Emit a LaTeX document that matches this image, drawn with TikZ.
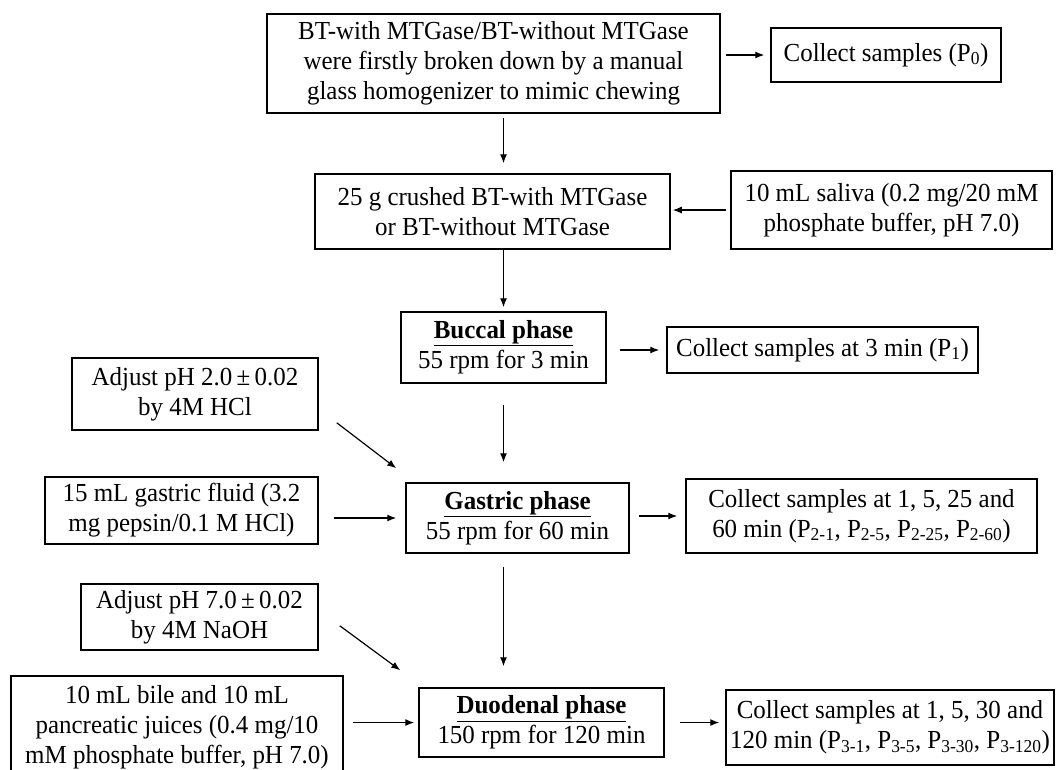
\documentclass[tikz,border=0pt]{standalone}
\usepackage{fontspec}
\setmainfont{Liberation Serif}[FakeStretch=0.96]
\usetikzlibrary{arrows.meta}

\begin{document}
\begin{tikzpicture}[x=1pt, y=-1pt,
        box/.style = {draw, line width=1.5pt, align=center, inner sep=0pt,
                      font=\fontsize{26}{30}\selectfont},
        arr/.style = {line width=1.2pt, -{Latex[length=9pt,width=7pt]}}]
        \useasboundingbox (0,0) rectangle (1056,769);

        % Breaking down
        \node[box, minimum width=453pt, minimum height=99pt] (intro) at (493.5,63.5)
            {BT-with MTGase/BT-without MTGase\\were firstly broken down by a manual\\glass homogenizer to mimic chewing};
        \node[box, minimum width=230pt, minimum height=54pt] (p0) at (886,55)
            {Collect samples (P\textsubscript{0})};

        % Crushed sample and saliva
        \node[box, minimum width=355pt, minimum height=75pt] (crushed) at (492.5,211.5)
            {25 g crushed BT-with MTGase\\or BT-without MTGase};
        \node[box, minimum width=321pt, minimum height=78pt] (saliva) at (891.5,210)
            {10 mL saliva (0.2 mg/20 mM\\phosphate buffer, pH 7.0)};

        % Buccal phase
        \node[box, minimum width=205pt, minimum height=71pt] (buccal) at (503.5,347.5)
            {\textbf{\underline{Buccal phase}}\\55 rpm for 3 min};
        \node[box, minimum width=311pt, minimum height=46pt] (p1) at (822.5,350)
            {Collect samples at 3 min (P\textsubscript{1})};

        % Gastric phase
        \node[box, minimum width=246pt, minimum height=72pt] (acid) at (195,394)
            {Adjust pH 2.0\,±\,0.02\\by 4M HCl};
        \node[box, minimum width=273pt, minimum height=67pt] (fluid) at (181.5,510.5)
            {15 mL gastric fluid (3.2\\mg pepsin/0.1 M HCl)};
        \node[box, minimum width=223pt, minimum height=70pt] (gastric) at (517.5,518)
            {\textbf{\underline{Gastric phase}}\\55 rpm for 60 min};
        \node[box, minimum width=351pt, minimum height=74pt] (p2) at (861.5,516)
            {Collect samples at 1, 5, 25 and\\60 min (P\textsubscript{2-1}, P\textsubscript{2-5}, P\textsubscript{2-25}, P\textsubscript{2-60})};

        % Duodenal phase
        \node[box, minimum width=237pt, minimum height=66pt] (base) at (199.5,617)
            {Adjust pH 7.0\,±\,0.02\\by 4M NaOH};
        \node[box, minimum width=332pt, minimum height=102pt] (bile) at (177,727)
            {10 mL bile and 10 mL\\pancreatic juices (0.4 mg/10\\mM phosphate buffer, pH 7.0)};
        \node[box, minimum width=245pt, minimum height=69pt] (duodenal) at (541.5,722.5)
            {\textbf{\underline{Duodenal phase}}\\150 rpm for 120 min};
        \node[box, minimum width=328pt, minimum height=75pt] (p3) at (890,727.5)
            {Collect samples at 1, 5, 30 and\\120 min (P\textsubscript{3-1}, P\textsubscript{3-5}, P\textsubscript{3-30}, P\textsubscript{3-120})};

        % Main flow
        \draw[arr, shorten <=4pt, shorten >=10pt] (intro.south -| buccal) -- (crushed.north -| buccal);
        \draw[arr, shorten >=4pt] (crushed.south -| buccal) -- (buccal.north);
        \draw[arr, shorten <=21pt, shorten >=20pt] (buccal.south) -- (gastric.north -| buccal);
        \draw[arr, shorten <=13pt, shorten >=21pt] (gastric.south -| buccal) -- (duodenal.north -| buccal);

        % Sampling arrows
        \draw[arr, shorten <=5pt, shorten >=6pt] (intro.east |- p0) -- (p0.west);
        \draw[arr, shorten <=13pt, shorten >=7pt] (buccal.east |- p1) -- (p1.west);
        \draw[arr, shorten <=9pt, shorten >=8pt] (gastric.east |- p2) -- (p2.west);
        \draw[arr, shorten <=15pt, shorten >=6pt] (duodenal.east) -- (p3.west |- duodenal);

        % Added fluids
        \draw[arr, shorten <=4pt, shorten >=2pt] (saliva.west) -- (crushed.east |- saliva);
        \draw[arr, shorten <=15pt, shorten >=9pt] (fluid.east |- gastric) -- (gastric.west);
        \draw[arr, shorten <=9pt, shorten >=4pt] (bile.east |- duodenal) -- (duodenal.west);
        \draw[arr] ([shift={(18,-8)}]acid.south east) -- ([shift={(-9,-14)}]gastric.north west);
        \draw[arr] ([shift={(21,-25)}]base.south east) -- ([shift={(-18,-17)}]duodenal.north west);
\end{tikzpicture}
\end{document}
